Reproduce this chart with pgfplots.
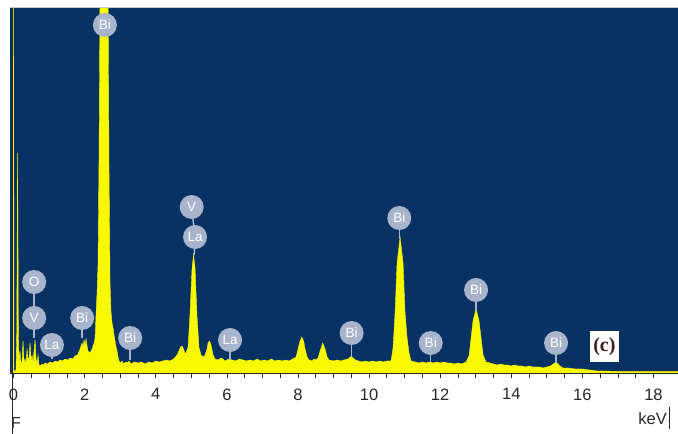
\documentclass[border=0pt]{standalone}
\usepackage{fontspec}
\setmainfont{Liberation Sans}
\newfontfamily\serifb{Liberation Serif}
\usepackage{pgfplots}
\pgfplotsset{compat=1.18}
\definecolor{bgblue}{RGB}{8,50,100}
\definecolor{specyellow}{RGB}{248,248,0}
\definecolor{balloon}{RGB}{168,180,204}
\definecolor{axisdark}{RGB}{40,40,40}
\begin{document}
\begin{tikzpicture}[x=1pt,y=1pt,
  bal/.style={circle, fill=balloon, text=white, inner sep=0pt, minimum size=24pt, font=\fontsize{13.5}{13.5}\selectfont},
  pin/.style={balloon, line width=1.5pt}]
\path[use as bounding box] (0,0) rectangle (678,434);
\begin{axis}[
  at={(10pt,61pt)}, anchor=south west,
  scale only axis, width=668pt, height=365pt,
  xmin=-0.1, xmax=18.69, ymin=0, ymax=365,
  axis background/.style={fill=bgblue},
  axis x line*=bottom, axis y line=none,
  x axis line style={-, draw=axisdark, line width=0.9pt},
  xtick={0,2,...,18}, minor x tick num=3,
  tick align=outside, major tick length=5pt, minor tick length=5pt,
  every tick/.style={axisdark, line width=0.7pt},
  xticklabel style={font=\fontsize{16.5}{16.5}\selectfont, text=axisdark, yshift=-7pt},
  /pgf/number format/assume math mode=true,
  clip mode=individual,
]
\addplot[draw=specyellow, line width=0.4pt, fill=specyellow] coordinates {
(-0.1,0) (-0.012,0) (0.0,420) (0.012,0) (0.03,2) (0.07,3) (0.09,40) (0.105,160) (0.113,220) (0.121,160) (0.135,40)
(0.155,10) (0.183,22) (0.211,8) (0.239,12) (0.267,32) (0.295,10) (0.323,14) (0.352,9) (0.380,24) (0.408,12)
(0.436,16) (0.464,30) (0.492,12) (0.520,18) (0.549,10) (0.577,22) (0.605,33) (0.633,14) (0.661,9) (0.689,18)
(0.717,8) (0.745,7) (0.802,9) (0.850,8) (0.886,10) (0.950,9) (1.027,11) (1.100,10) (1.167,12) (1.240,11)
(1.308,13) (1.380,12) (1.449,14) (1.520,13) (1.589,15) (1.660,14) (1.730,17) (1.800,18) (1.871,24) (1.927,30)
(1.955,26) (1.983,33) (2.011,28) (2.039,34) (2.068,27) (2.096,22) (2.152,20) (2.208,24) (2.265,30) (2.293,35)
(2.321,60) (2.349,80) (2.377,110) (2.405,220) (2.433,380) (2.658,380) (2.686,200) (2.714,90) (2.743,60) (2.771,50)
(2.799,45) (2.827,38) (2.855,32) (2.883,26) (2.911,22) (2.940,16) (2.968,12) (3.00,10) (3.05,12) (3.10,9)
(3.15,11) (3.20,10) (3.25,12) (3.30,9) (3.40,11) (3.50,10) (3.60,11) (3.70,9) (3.80,11) (3.90,10)
(4.00,12) (4.10,11) (4.20,12) (4.30,13) (4.40,12) (4.50,14) (4.55,16) (4.60,18) (4.65,22) (4.70,26)
(4.74,27) (4.78,24) (4.82,20) (4.852,20) (4.909,26) (4.965,60) (5.021,105) (5.063,118) (5.105,105) (5.162,55)
(5.218,25) (5.274,18) (5.331,16) (5.387,18) (5.443,24) (5.471,30) (5.513,32) (5.555,28) (5.612,18) (5.668,14)
(5.75,13) (5.85,15) (5.95,12) (6.05,14) (6.15,13) (6.25,12) (6.35,14) (6.45,13) (6.55,12) (6.65,13)
(6.75,12) (6.85,14) (6.95,12) (7.05,13) (7.15,12) (7.25,14) (7.35,12) (7.45,13) (7.55,12) (7.65,13)
(7.75,12) (7.85,14) (7.947,16) (8.003,24) (8.059,32) (8.107,36) (8.158,32) (8.200,24) (8.256,16) (8.312,13)
(8.40,12) (8.45,14) (8.50,13) (8.566,15) (8.622,22) (8.698,30) (8.762,24) (8.819,16) (8.875,13) (9.00,12)
(9.10,13) (9.20,12) (9.30,13) (9.40,14) (9.45,15) (9.50,17) (9.55,15) (9.62,13) (9.70,12) (9.80,11)
(9.90,12) (10.00,11) (10.10,12) (10.20,11) (10.30,12) (10.40,11) (10.50,12) (10.619,12) (10.675,25) (10.731,60)
(10.788,110) (10.872,136) (10.956,110) (11.013,60) (11.069,35) (11.125,20) (11.181,12) (11.30,11) (11.40,10) (11.50,11)
(11.60,10) (11.70,11) (11.80,10) (11.90,11) (12.00,10) (12.10,11) (12.20,10) (12.30,10) (12.40,9) (12.50,10)
(12.60,9) (12.729,11) (12.813,17) (12.869,35) (12.925,52) (13.010,64) (13.094,52) (13.150,35) (13.207,18) (13.291,11)
(13.40,10) (13.50,9) (13.60,8) (13.70,9) (13.80,8) (13.90,8) (14.00,7) (14.10,8) (14.20,7) (14.30,7)
(14.40,6) (14.50,7) (14.60,6) (14.70,6) (14.80,6) (14.90,5) (15.00,6) (15.10,7) (15.18,9) (15.26,11)
(15.34,8) (15.45,5) (15.60,5) (15.80,4) (16.00,4) (16.20,3) (16.40,2) (16.60,2) (17.00,1.5) (18.69,1.5)
} \closedcycle;
% pins
\draw[pin] (axis cs:0.58,91) -- (axis cs:0.58,35);
\draw[pin] (axis cs:1.08,28) -- (axis cs:1.08,14);
\draw[pin] (axis cs:1.93,55) -- (axis cs:1.93,35);
\draw[pin] (axis cs:3.28,35) -- (axis cs:3.28,13);
\draw[pin] (axis cs:5.01,166) -- (axis cs:5.105,136) -- (axis cs:5.08,118);
\draw[pin] (axis cs:6.09,33) -- (axis cs:6.09,13);
\draw[pin] (axis cs:9.51,40) -- (axis cs:9.51,16);
\draw[pin] (axis cs:10.85,155) -- (axis cs:10.85,134);
\draw[pin] (axis cs:11.735,30) -- (axis cs:11.735,11);
\draw[pin] (axis cs:13.01,83) -- (axis cs:13.01,63);
\draw[pin] (axis cs:15.26,30) -- (axis cs:15.26,10);
% balloons
\node[bal] at (axis cs:2.57,348) {Bi};
\node[bal] at (axis cs:0.58,91) {O};
\node[bal] at (axis cs:0.58,55) {V};
\node[bal] at (axis cs:1.08,28) {La};
\node[bal] at (axis cs:1.93,55) {Bi};
\node[bal] at (axis cs:3.28,35) {Bi};
\node[bal] at (axis cs:5.01,166) {V};
\node[bal] at (axis cs:5.105,136) {La};
\node[bal] at (axis cs:6.09,33) {La};
\node[bal] at (axis cs:9.51,40) {Bi};
\node[bal] at (axis cs:10.85,155) {Bi};
\node[bal] at (axis cs:11.735,30) {Bi};
\node[bal] at (axis cs:13.01,83) {Bi};
\node[bal] at (axis cs:15.26,30) {Bi};
\node[fill=white, minimum width=29pt, minimum height=31pt, inner sep=0pt,
      font=\serifb\bfseries\fontsize{20}{20}\selectfont, text={rgb,255:red,60;green,30;blue,30}]
      at (axis cs:16.62,26.5) {(c)};
\end{axis}
\draw[gray!45, line width=0.8pt] (10,427) -- (678,427);
\draw[axisdark, line width=1pt] (12,426) -- (12,0);
\node[anchor=east, inner sep=0pt, font=\fontsize{16.5}{16.5}\selectfont, text=axisdark] at (667,15.5) {keV};
\draw[axisdark, line width=0.9pt] (669.5,5) -- (669.5,27);
\node[anchor=west, inner sep=0pt, font=\fontsize{16}{16}\selectfont, text=axisdark] at (11,11) {F};
\end{tikzpicture}
\end{document}
